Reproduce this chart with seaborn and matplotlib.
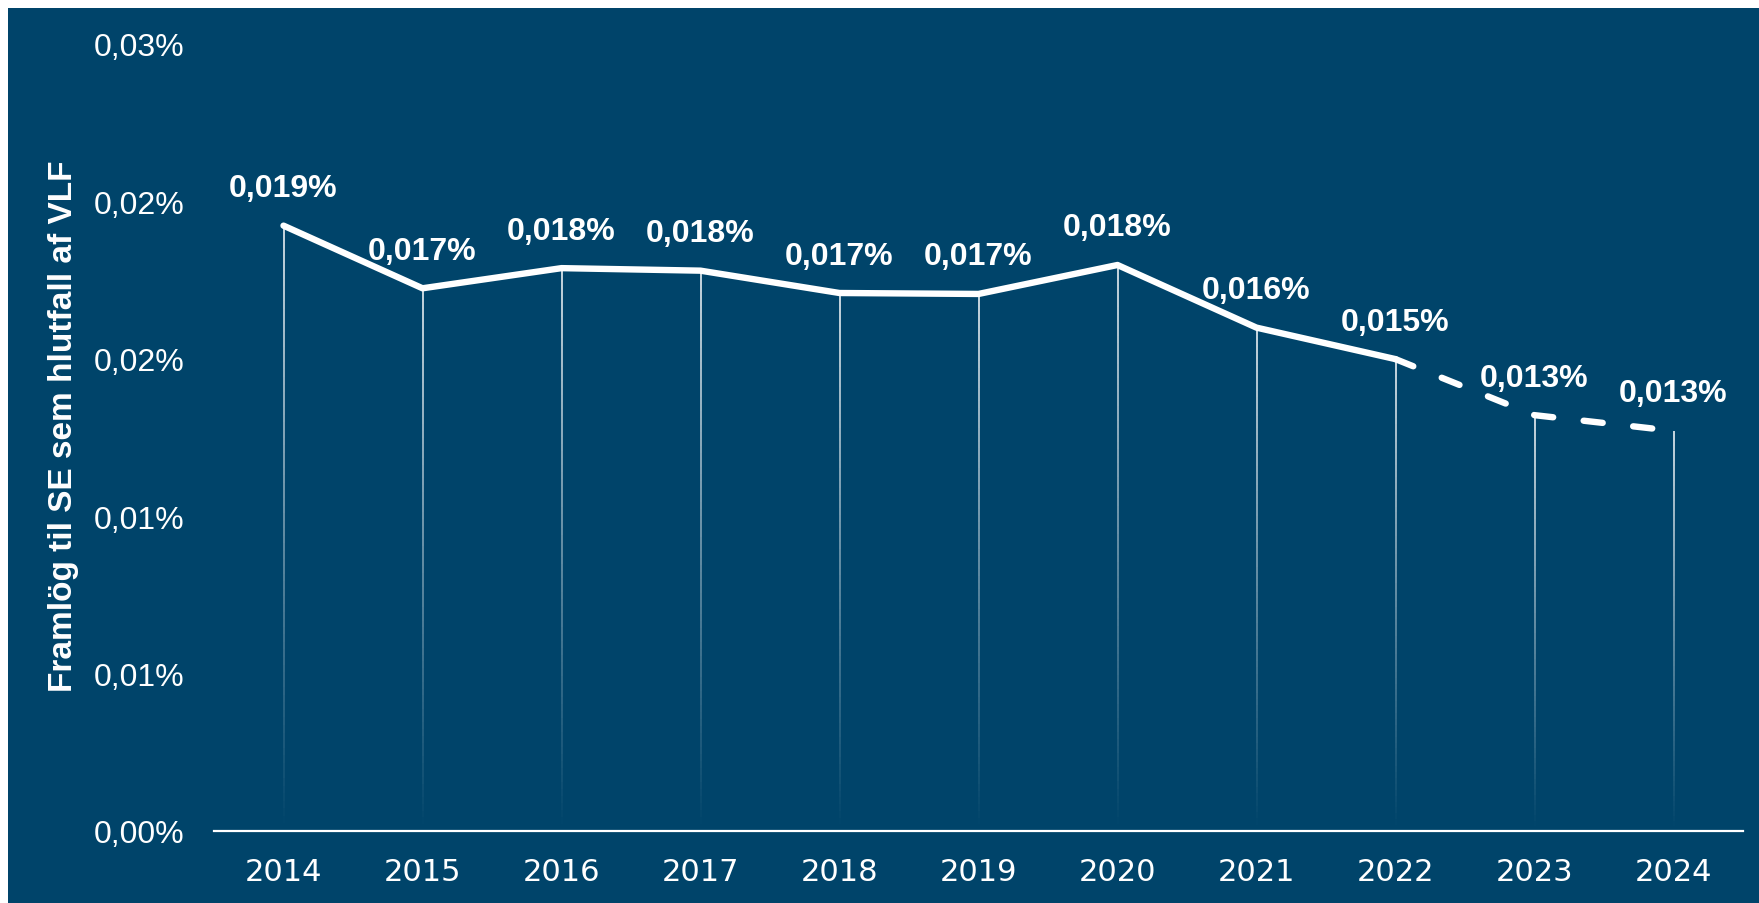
import numpy as np
import pandas as pd
import matplotlib
matplotlib.use("Agg")
import matplotlib.pyplot as plt
from matplotlib.collections import LineCollection
from matplotlib.patches import Rectangle
import seaborn as sns

# ---- data ----
years = [2014, 2015, 2016, 2017, 2018, 2019, 2020, 2021, 2022, 2023, 2024]
values = [0.01923, 0.01724, 0.01788, 0.01780, 0.01709, 0.01706, 0.01798,
          0.01599, 0.01499, 0.01321, 0.01271]   # percent
last_actual_year = 2022
ytick_values = [0.0, 0.005, 0.010, 0.015, 0.020, 0.025]
ytick_labels = ["0,00%", "0,01%", "0,01%", "0,02%", "0,02%", "0,03%"]
ylabel = "Framlög til SE sem hlutfall af VLF"

BG = "#00446a"
FONT = "Liberation Sans"

sns.set_theme(style="white")
plt.rcParams["font.family"] = [FONT, "DejaVu Sans"]

df = pd.DataFrame({"year": years, "value": values})

W, H = 1759, 904
fig = plt.figure(figsize=(W / 100, H / 100), dpi=100, facecolor="white")
fig.patches.append(Rectangle((8 / W, 0), 1 - 8 / W, 1 - 9 / H,
                             transform=fig.transFigure, facecolor=BG,
                             edgecolor="none", zorder=-10))

ax = fig.add_axes([214 / W, 72 / H, (1743 - 214) / W, (832 - 45) / H])
ax.set_facecolor("none")

# gradient drop lines
for yr, v in zip(years, values):
    n = 80
    ys = np.linspace(0, v, n + 1)
    segs = [[(yr, ys[i]), (yr, ys[i + 1])] for i in range(n)]
    alphas = np.linspace(0.0, 1.0, n)
    cols = [(1, 1, 1, a) for a in alphas]
    ax.add_collection(LineCollection(segs, colors=cols, linewidths=1.1,
                                     zorder=2))

solid = df[df["year"] <= last_actual_year]
dashed = df[df["year"] >= last_actual_year]
sns.lineplot(data=solid, x="year", y="value", ax=ax, color="white",
             linewidth=4.6, solid_capstyle="round", solid_joinstyle="round",
             zorder=3)
sns.lineplot(data=dashed, x="year", y="value", ax=ax, color="white",
             linewidth=4.6, linestyle=(0, (3.0, 4.8)),
             dash_capstyle="round", dash_joinstyle="round", zorder=3)

for yr, v in zip(years, values):
    lab = f"{v:.3f}".replace(".", ",") + "%"
    ax.annotate(lab, (yr, v), xytext=(0, 27), textcoords="offset points",
                ha="center", va="center", fontsize=23, fontweight="bold",
                color="white", zorder=4)

ax.set_xlim(years[0] - 0.5, years[-1] + 0.5)
ax.set_ylim(0, 0.025)
ax.set_xticks(years)
ax.set_xticklabels([str(y) for y in years], family=["DejaVu Sans"])
ax.set_yticks(ytick_values)
ax.set_yticklabels(ytick_labels)
ax.tick_params(axis="both", length=0, colors="white", labelsize=23)
ax.tick_params(axis="x", labelsize=22)
ax.tick_params(axis="y", pad=21)
ax.tick_params(axis="x", pad=19)

for s in ["top", "right", "left"]:
    ax.spines[s].set_visible(False)
ax.spines["bottom"].set_color("white")
ax.spines["bottom"].set_linewidth(1.6)

ax.set_xlabel("")
ax.set_ylabel(ylabel, color="white", fontsize=24, fontweight="bold")
ax.yaxis.label.set_va("center")
ax.yaxis.set_label_coords((64 - 214) / 1529, (832 - 426) / 787)
ax.grid(False)

fig.savefig("out.png", dpi=100, facecolor="white")
